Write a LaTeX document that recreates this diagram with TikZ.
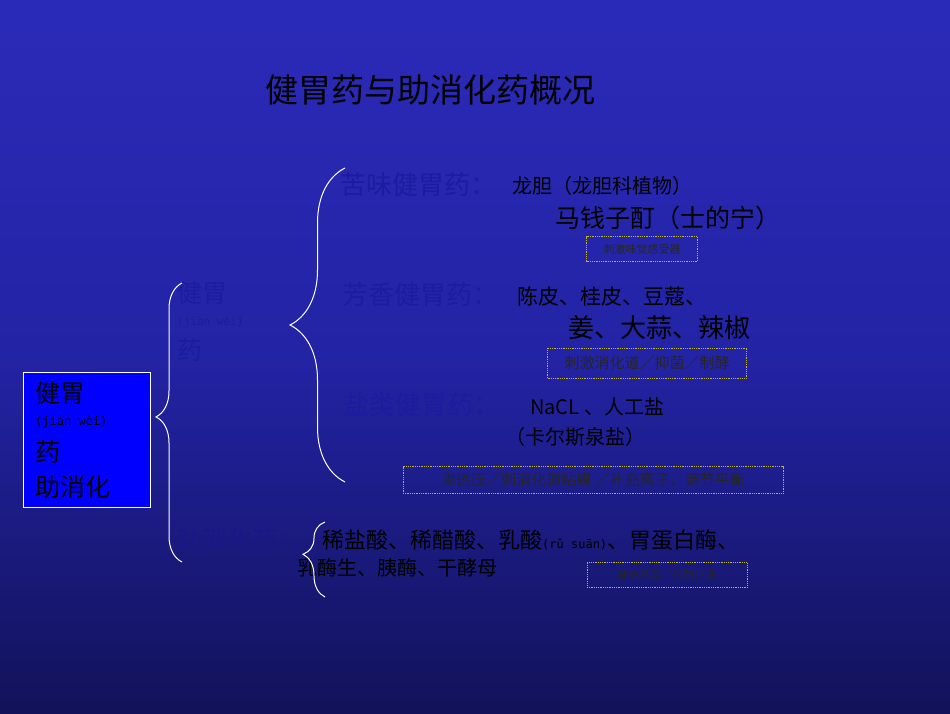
\documentclass[tikz,border=0pt]{standalone}
\usepackage{fontspec}
\setmainfont{Noto Sans CJK SC}
\newfontfamily\pyfont{DejaVu Sans Mono}
\usetikzlibrary{decorations.pathreplacing}
\definecolor{lblue}{RGB}{28,28,160}
\definecolor{boxy}{RGB}{190,180,60}
\definecolor{g0}{RGB}{0,0,0}
\definecolor{g1}{RGB}{10,10,45}
\definecolor{g2}{RGB}{18,18,90}
\definecolor{g3}{RGB}{35,35,165}
\definecolor{g4}{RGB}{50,50,205}
\pgfdeclareverticalshading{bgshade}{100bp}{
  color(0bp)=(g0); color(12bp)=(g1); color(25bp)=(g2);
  color(50bp)=(g3); color(100bp)=(g4)}
\tikzset{
  t/.style={anchor=west,inner sep=0pt,text=black},
  bl/.style={anchor=west,inner sep=0pt,text=lblue},
  note/.style={draw=boxy,densely dotted,line width=0.8pt,text=black!85,inner sep=2pt,anchor=center},
  brc/.style={draw=white,line width=1pt}
}
\begin{document}
\begin{tikzpicture}[x=1pt,y=-1pt]
\shade[shading=bgshade] (0,0) rectangle (950,713);
\useasboundingbox (0,0) rectangle (950,713);
\node[t,font=\fontsize{33}{35}\selectfont] (title) at (265,90) {健胃药与助消化药概况};
% bitter
\node[bl,font=\fontsize{26}{28}\selectfont] (k1) at (340,185) {苦味健胃药：};
\node[t,font=\fontsize{20}{22}\selectfont] (k2) at (512,186) {龙胆（龙胆科植物）};
\node[t,font=\fontsize{25}{27}\selectfont] (k3) at (555,218) {马钱子酊（士的宁）};
\node[note,font=\fontsize{11}{12}\selectfont,minimum width=111pt,minimum height=25pt] (n1) at (642,249) {刺激味觉感受器};
% aromatic
\node[bl,font=\fontsize{26}{28}\selectfont] (f1) at (342,295) {芳香健胃药：};
\node[t,font=\fontsize{21}{23}\selectfont] (f2) at (517,296) {陈皮、桂皮、豆蔻、};
\node[t,font=\fontsize{26}{28}\selectfont] (f3) at (568,328) {姜、大蒜、辣椒};
\node[note,font=\fontsize{15}{16}\selectfont,minimum width=199pt,minimum height=30pt] (n2) at (647,363) {刺激消化道／抑菌／制酵};
% salt
\node[bl,font=\fontsize{26}{28}\selectfont] (s1) at (343,405) {盐类健胃药：};
\node[t,font=\fontsize{20}{22}\selectfont] (s2) at (530,407) {NaCL 、人工盐};
\node[t,font=\fontsize{20}{22}\selectfont] (s3) at (505,437) {（卡尔斯泉盐）};
\node[note,font=\fontsize{15}{16}\selectfont,minimum width=380pt,minimum height=27pt] (n3) at (593,480) {渗透压／刺消化道粘膜 ／补充离子，调节平衡};
% jianwei label
\node[bl,font=\fontsize{25}{27}\selectfont] (j1) at (177,293) {健胃};
\node[bl,font=\pyfont\fontsize{11}{12}\selectfont] (j2) at (177,322) {(jiàn wèi)};
\node[bl,font=\fontsize{25}{27}\selectfont] (j3) at (177,350) {药};
% left box
\node[draw=white,fill=blue,line width=0.8pt,minimum width=127pt,minimum height=135pt,inner sep=0pt] (box) at (86.5,439.5) {};
\node[t,font=\fontsize{25}{27}\selectfont] (b1) at (35,393) {健胃};
\node[t,font=\pyfont\fontsize{12}{13}\selectfont] (b2) at (35,422) {(jiàn wèi)};
\node[t,font=\fontsize{25}{27}\selectfont] (b3) at (35,452) {药};
\node[t,font=\fontsize{25}{27}\selectfont] (b4) at (35,487) {助消化};
% digestion aid
\node[bl,font=\fontsize{25}{27}\selectfont,text=lblue!85!black] (d1) at (177,540) {助消化药：};
\node[t,font=\fontsize{22}{24}\selectfont] (d2) at (322,540) {稀盐酸、稀醋酸、乳酸{\pyfont\fontsize{12}{13}\selectfont (rǔ suān)}、胃蛋白酶、};
\node[t,font=\fontsize{20}{22}\selectfont] (d3) at (297,568) {乳酶生、胰酶、干酵母};
\node[note,font=\fontsize{11}{12}\selectfont,minimum width=160pt,minimum height=25pt] (n4) at (667,575) {补充不足／代替疗法};
% braces
\coordinate (bA1) at (345,168); \coordinate (bA2) at (345,482);
\draw[brc,decorate,decoration={brace,amplitude=55pt,aspect=0.5}] (bA2) -- (bA1);
\coordinate (bB1) at (182,283); \coordinate (bB2) at (182,562);
\draw[brc,decorate,decoration={brace,amplitude=26pt,aspect=0.52}] (bB2) -- (bB1);
\coordinate (bC1) at (325,522); \coordinate (bC2) at (325,597);
\draw[brc,decorate,decoration={brace,amplitude=22pt,aspect=0.57}] (bC2) -- (bC1);
\end{tikzpicture}
\end{document}
